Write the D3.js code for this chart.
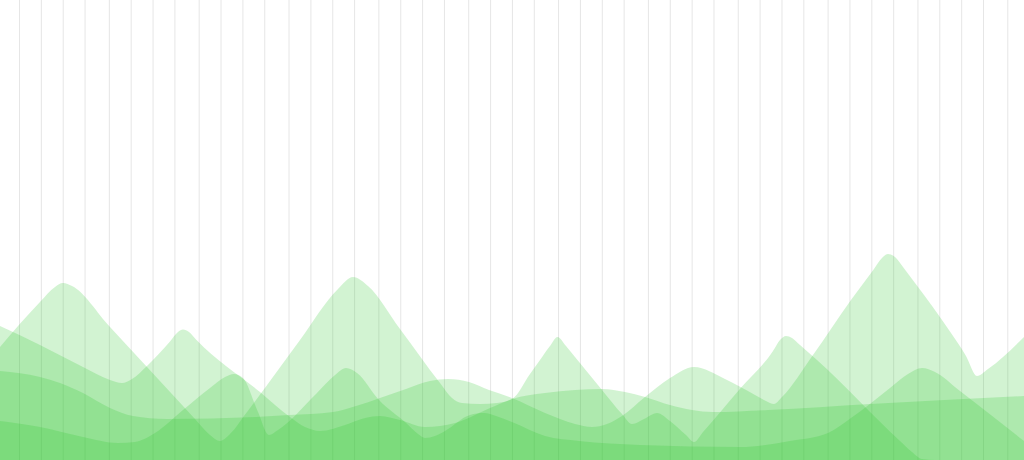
<!DOCTYPE html>
<html>
<head>
<meta charset="utf-8">
<script src="https://cdn.jsdelivr.net/npm/d3@7"></script>
<style>
html,body{margin:0;padding:0;background:#fff;overflow:hidden}
svg{display:block}
</style>
</head>
<body>
<svg id="chart" width="1024" height="460"></svg>
<script>
// grid tick positions (in "day" units of the time axis)
const gridDays = [0,9,18,27,37,46,55,64,74,83,92,101,111,120,129,138,148,157,166,175,185,194,203,212,222,231,240,249,259,268,277,286,296,305,314,323,333,342,351,360,370,379,388,397,407];

// series: [time, value]
const seriesP = [[0,56.5],[4,79],[5.5,86.5],[6.3,88.5],[7.2,87],[11,66.5],[14.7,46.5],[19.5,20.5],[21,12.5],[22,9.5],[23,13],[24.7,24],[30,60],[33.8,85.5],[35.3,91.5],[36.8,87],[40,65.5],[44,38.5],[45.2,31],[46.2,28.5],[48,28],[49.7,28.5],[51.2,30.5],[53,43],[54,50],[55,57],[55.75,61.5],[56.6,57],[57.5,51.5],[60.2,35],[62.2,23],[63.2,18],[64.4,20.5],[65.7,23.5],[67,19.5],[68.6,12.5],[69.4,9],[70.3,14],[73.9,35],[77.3,54.5],[78,60],[78.6,62],[79.2,61],[80,57.5],[81.7,50],[90,9.5],[91.2,4],[92.2,0.5],[93.5,0],[102.4,0]];

const seriesA = [[0,67],[4,57.5],[8.3,46.5],[11,40],[12.2,38.5],[13.2,40.5],[14.7,47],[17,59.25],[17.8,64],[18.3,65.25],[18.9,64],[19.6,60.25],[26,34],[29,21.5],[30.5,16.5],[32,14.5],[34.5,17.5],[36.5,21],[38,22],[40,20],[42.5,16.5],[45.5,18.5],[49,26],[51.2,30.5],[54.5,33.5],[57.5,35],[60.2,35.5],[62.5,34],[64.5,31.5],[67,27.5],[69.2,25],[71.3,24],[76.8,25],[87,28],[102.4,32]];

const seriesC = [[0,44.5],[4,41.5],[6,38.5],[8.3,33.5],[11,26],[13.3,22],[16.7,20.5],[25.6,21.5],[28.9,22.5],[33.3,24],[35.6,27],[38,31],[40.6,35.5],[43,39.5],[44.8,40.5],[46.9,39],[48.9,35],[51.2,31],[54.5,23.5],[57.5,18],[59.2,16.5],[60.7,18],[62.2,22],[64.5,31.5],[67,41],[69.4,46.5],[72.5,40.5],[75.5,32.5],[76.6,29.5],[77.4,28],[78.2,31.5],[81.3,52.5],[85.1,80],[87.4,95.5],[88.2,101],[88.8,103],[89.5,101.5],[90.3,96.5],[91.5,88.5],[95.1,63.5],[96.6,52],[97.7,42],[98.8,45.5],[102.4,61.5]];

const seriesD = [[0,19.5],[4,16.5],[8.3,11.5],[11.8,8.5],[13.5,9],[15.5,13.5],[18.3,25],[21,36],[22.5,41.5],[23.4,43],[24.3,41],[25.8,24],[26.9,12.5],[27.8,15],[31.6,33],[33.5,42.5],[34.6,46],[35.7,43.5],[37.9,30],[40.6,18.5],[41.8,13],[42.5,11],[43.5,12],[44.5,14.5],[47,22.5],[48.4,23.5],[49.6,22],[51.2,19],[54.5,12],[57.9,9.5],[64,7.5],[74,6.5],[79,9.5],[82.8,13.5],[85.1,21],[89,36],[90.8,43],[92.2,46],[93.5,44],[96,34.5],[102.4,9.5]];

const allSeries = [seriesP, seriesA, seriesC, seriesD];

const W = 1024, H = 460;
const svg = d3.select('#chart');

const x = d3.scaleLinear().domain([0, 102.4]).range([0, W]);
const y = d3.scaleLinear().domain([0, 230]).range([H, 0]);
const xGrid = d3.scaleLinear().domain([0, 407]).range([x(1.9), x(100.73)]);

// vertical grid
svg.append('g')
  .attr('class', 'grid')
  .call(d3.axisBottom(xGrid).tickValues(gridDays).tickSize(H).tickFormat(''))
  .call(g => g.select('.domain').remove())
  .call(g => g.selectAll('.tick line').attr('stroke', '#e6e6e6').attr('stroke-width', 1));

const area = d3.area()
  .x(d => x(d[0]))
  .y0(y(0))
  .y1(d => y(d[1]))
  .curve(d3.curveMonotoneX);

svg.append('g')
  .selectAll('path')
  .data(allSeries)
  .join('path')
  .attr('d', area)
  .attr('fill', 'rgb(44,200,44)')
  .attr('fill-opacity', 0.21);
</script>
</body>
</html>
